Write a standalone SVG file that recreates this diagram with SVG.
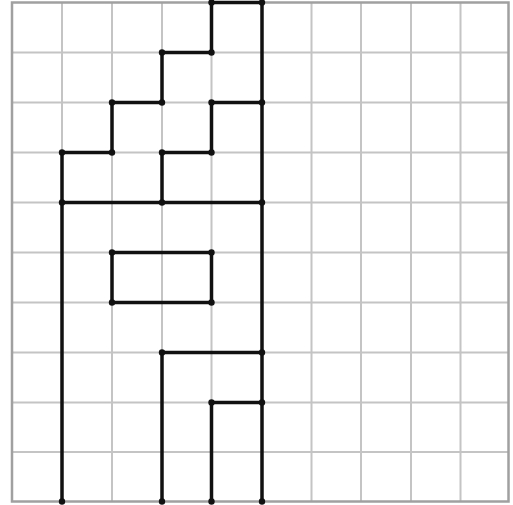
<svg xmlns="http://www.w3.org/2000/svg" width="513" height="505" viewBox="0 0 513 505">
<style>
.g{stroke:#c4c4c4;stroke-width:2;fill:none}
.b{stroke:#a0a0a0;stroke-width:2.5;fill:none}
.k{stroke:#111;stroke-width:3.5;fill:none;stroke-linecap:round;stroke-linejoin:round}
.d{fill:#111}
</style>
<rect width="513" height="505" fill="#fff"/>
<g id="grid">
<path class="g" d="M62 2.5V501.5M112 2.5V501.5M162 2.5V501.5M211.5 2.5V501.5M262 2.5V501.5M311.5 2.5V501.5M361 2.5V501.5M411 2.5V501.5M460.5 2.5V501.5"/>
<path class="g" d="M12 52.5H508.5M12 102.5H508.5M12 152.5H508.5M12 202.5H508.5M12 252.5H508.5M12 302.5H508.5M12 352.5H508.5M12 402.5H508.5M12 452H508.5"/>
<rect class="b" x="12" y="2.5" width="496.5" height="499"/>
</g>
<g id="connectors">
<path class="k" d="M62 501.5V152.5H112V102.5H162V52.5H211.5V2.5H262V501.5"/>
<path class="k" d="M262 102.5H211.5V152.5H162V202.5"/>
<path class="k" d="M62 202.5H262"/>
<path class="k" d="M112 252.5H211.5V302.5H112Z"/>
<path class="k" d="M162 501.5V352.5H262"/>
<path class="k" d="M211.5 501.5V402.5H262"/>
</g>
<g id="dots" class="d">
<circle cx="211.5" cy="2.5" r="3.2"/><circle cx="262" cy="2.5" r="3.2"/>
<circle cx="162" cy="52.5" r="3.2"/><circle cx="211.5" cy="52.5" r="3.2"/>
<circle cx="112" cy="102.5" r="3.2"/><circle cx="162" cy="102.5" r="3.2"/><circle cx="211.5" cy="102.5" r="3.2"/><circle cx="262" cy="102.5" r="3.2"/>
<circle cx="62" cy="152.5" r="3.2"/><circle cx="112" cy="152.5" r="3.2"/><circle cx="162" cy="152.5" r="3.2"/><circle cx="211.5" cy="152.5" r="3.2"/>
<circle cx="62" cy="202.5" r="3.2"/><circle cx="162" cy="202.5" r="3.2"/><circle cx="262" cy="202.5" r="3.2"/>
<circle cx="112" cy="252.5" r="3.2"/><circle cx="211.5" cy="252.5" r="3.2"/>
<circle cx="112" cy="302.5" r="3.2"/><circle cx="211.5" cy="302.5" r="3.2"/>
<circle cx="162" cy="352.5" r="3.2"/><circle cx="262" cy="352.5" r="3.2"/>
<circle cx="211.5" cy="402.5" r="3.2"/><circle cx="262" cy="402.5" r="3.2"/>
<circle cx="62" cy="501.5" r="3.2"/><circle cx="162" cy="501.5" r="3.2"/><circle cx="211.5" cy="501.5" r="3.2"/><circle cx="262" cy="501.5" r="3.2"/>
</g>
</svg>
